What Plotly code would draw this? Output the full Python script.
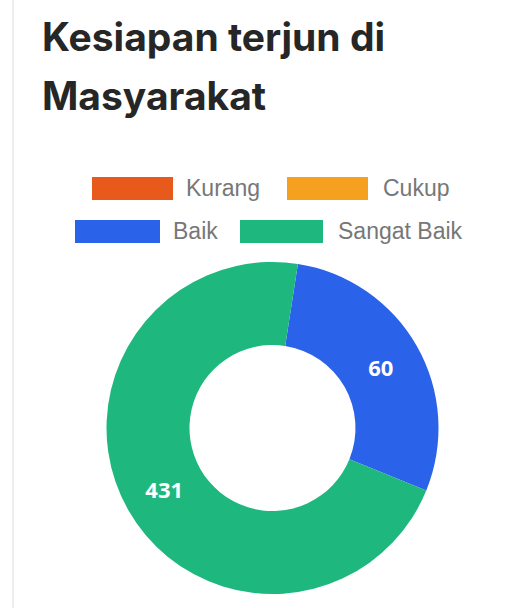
import plotly.graph_objects as go

# ---- data ----
categories = ["Kurang", "Cukup", "Baik", "Sangat Baik"]
slice_share = [0, 0, 28.7, 71.3]          # arc proportions
shown_labels = ["", "", "60", "431"]       # numbers printed on the slices
colors = ["#e8591c", "#f5a11f", "#2a62e9", "#1eb87f"]
title_lines = ["Kesiapan terjun di", "Masyarakat"]

W, H = 518, 608

fig = go.Figure()
fig.add_trace(go.Pie(
    labels=categories,
    values=slice_share,
    text=shown_labels,
    textinfo="text",
    textposition="inside",
    insidetextorientation="horizontal",
    textfont=dict(family="Open Sans", size=22, color="white", weight=700),
    marker=dict(colors=colors, line=dict(width=0)),
    hole=0.5,
    sort=False,
    direction="clockwise",
    rotation=8.8,
    domain=dict(x=[105 / W, 440 / W], y=[14 / H, 346 / H]),
    showlegend=False,
    hoverinfo="label+text",
))

shapes = []
annotations = []

# card left border
shapes.append(dict(type="line", xref="paper", yref="paper", x0=13 / W, x1=13 / W,
                   y0=0, y1=1, line=dict(color="#eeeeee", width=2)))

# title
title_font = dict(family="Inter", size=39, color="#262626", weight=700)
annotations.append(dict(text=title_lines[0], xref="paper", yref="paper",
                        x=40 / W, y=1 - 36 / H, xanchor="left", yanchor="middle",
                        showarrow=False, font=title_font))
annotations.append(dict(text=title_lines[1], xref="paper", yref="paper",
                        x=40 / W, y=1 - 95 / H, xanchor="left", yanchor="middle",
                        showarrow=False, font=title_font))

# custom legend (wide swatches)
legend_layout = [  # (swatch x0, x1, y0, y1, text x)
    (92, 173, 177, 200, 184),
    (287, 368, 177, 200, 381),
    (75, 160, 220, 243, 171),
    (240, 323, 220, 243, 336),
]
for (x0, x1, y0, y1, tx), name, col in zip(legend_layout, categories, colors):
    shapes.append(dict(type="rect", xref="paper", yref="paper",
                       x0=x0 / W, x1=x1 / W, y0=1 - y1 / H, y1=1 - y0 / H,
                       fillcolor=col, line=dict(width=0)))
    annotations.append(dict(text=name, xref="paper", yref="paper",
                            x=tx / W, y=1 - ((y0 + y1) / 2) / H,
                            xanchor="left", yanchor="middle", showarrow=False,
                            font=dict(family="Liberation Sans", size=23, color="#777777")))

fig.update_layout(
    width=W, height=H,
    margin=dict(l=0, r=0, t=0, b=0),
    paper_bgcolor="white",
    plot_bgcolor="white",
    shapes=shapes,
    annotations=annotations,
    showlegend=False,
)

fig.write_html("out.html", config={"displayModeBar": False},
               post_script="document.body.style.margin='0';")
